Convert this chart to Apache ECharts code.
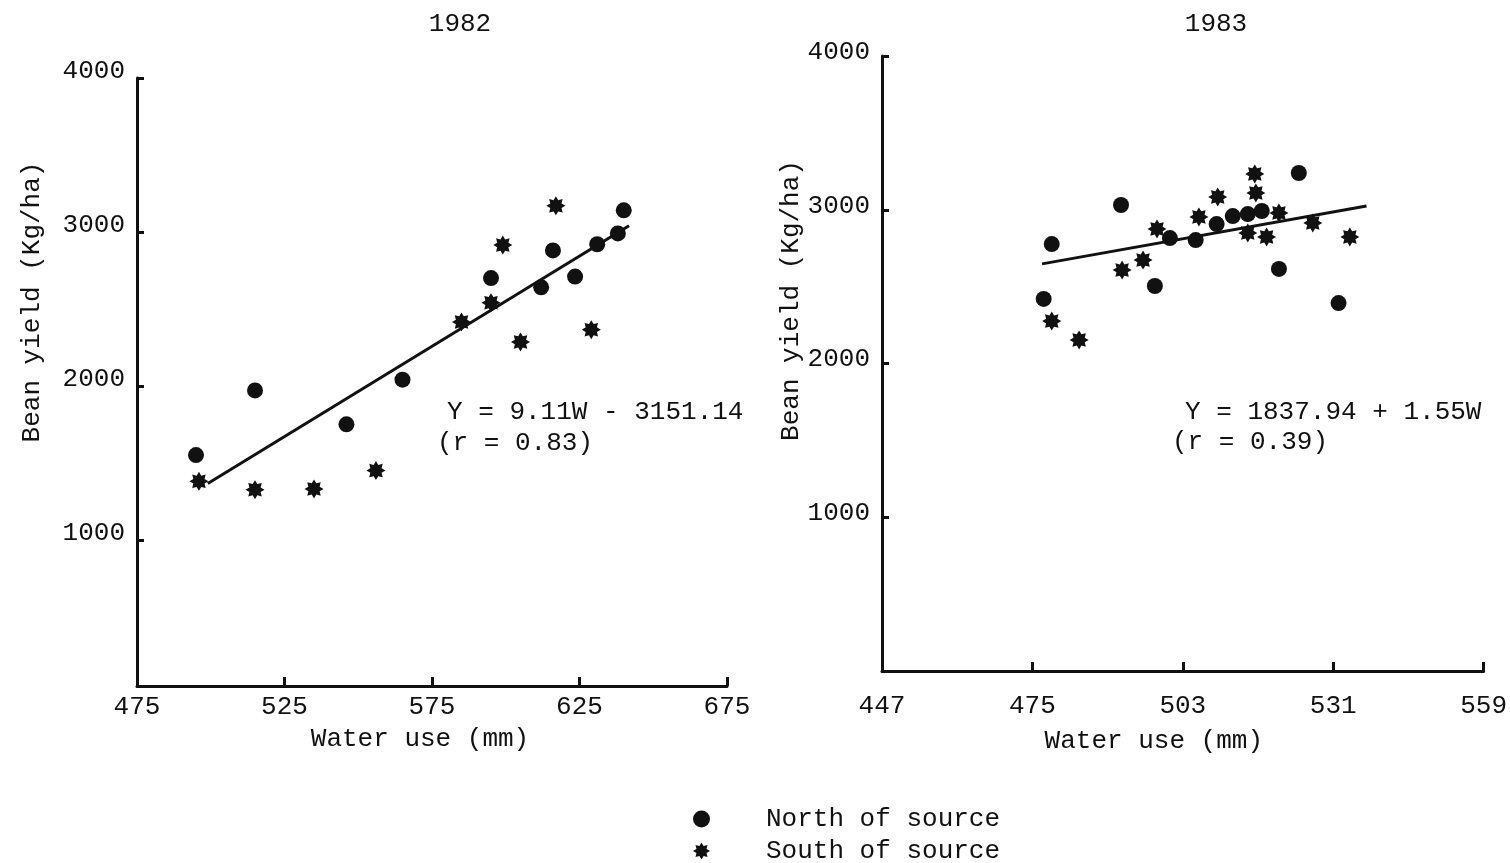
<!DOCTYPE html>
<html>
<head>
<meta charset="utf-8">
<script src="https://cdn.jsdelivr.net/npm/echarts@6/dist/echarts.min.js"></script>
<style>
  html, body { margin: 0; padding: 0; background: #fff; }
  #main { width: 1510px; height: 863px; }
</style>
</head>
<body>
<div id="main"></div>
<script>
// values: [water use (mm), bean yield (kg/ha)]
const north82 = [[495, 1550], [515, 1970], [546, 1750], [565, 2040], [595, 2700], [612, 2640],
  [616, 2880], [623.5, 2710], [631, 2920], [638, 2990], [640, 3140]]
const south82 = [[496, 1380], [515, 1325], [535, 1330], [556, 1450], [585, 2415], [595, 2540],
  [599, 2915], [605, 2285], [617, 3170], [629, 2365]]
const fit82 = [[499, 1365], [641.8, 3040]]

const north83 = [[478.6, 2777], [477.1, 2420], [491.5, 3031], [497.8, 2504], [500.6, 2816],
  [505.4, 2803], [509.3, 2907], [512.3, 2959], [515.1, 2972], [517.7, 2992], [520.9, 2615],
  [524.6, 3239], [532, 2393]]
const south83 = [[478.6, 2276], [483.7, 2153], [491.7, 2608], [495.6, 2673], [498.2, 2875],
  [506, 2953], [509.5, 3083], [515.1, 2849], [516.4, 3233], [516.6, 3109], [518.6, 2823],
  [520.9, 2979], [527.2, 2914], [534.1, 2823]]
const fit83 = [[476.8, 2648], [537.2, 3025]]

const years = ['1982', '1983']
const eq82 = ['Y = 9.11W - 3151.14', '(r = 0.83)']
const eq83 = ['Y = 1837.94 + 1.55W', '(r = 0.39)']
const legendNames = ['North of source', 'South of source']

const FONT = '"Liberation Mono", "DejaVu Sans Mono", monospace'
const INK = '#111'

// 8 pointed star marker
function starPath(n, inner) {
  let d = ''
  for (let i = 0; i < 2 * n; i++) {
    const r = i % 2 ? inner : 1
    const a = Math.PI * i / n - Math.PI / 2
    d += (i ? 'L' : 'M') + (50 + 50 * r * Math.cos(a)).toFixed(1) + ' ' + (50 + 50 * r * Math.sin(a)).toFixed(1)
  }
  return 'path://' + d + 'Z'
}
const STAR = starPath(8, 0.64)

const txt = {fontFamily: FONT, fontSize: 26, color: INK}

function xAxisOf(idx, min, max, step, gap, pad) {
  return {
    gridIndex: idx, type: 'value', min: min, max: max, interval: step,
    axisLine: {lineStyle: {color: INK, width: 3}},
    axisTick: {inside: true, length: 9, lineStyle: {color: INK, width: 3}},
    splitLine: {show: false},
    axisLabel: Object.assign({margin: idx ? 22 : 8}, txt),
    name: 'Water use (mm)', nameLocation: 'middle', nameGap: gap,
    nameTextStyle: Object.assign({padding: [0, pad, 0, 0]}, txt)
  }
}

function yAxisOf(idx, min, gap, pad, raise) {
  return {
    gridIndex: idx, type: 'value', min: min, max: 4000, splitNumber: 4,
    axisLine: {lineStyle: {color: INK, width: 3}},
    axisTick: {inside: true, length: 7, lineStyle: {color: INK, width: 3}},
    splitLine: {show: false},
    axisLabel: Object.assign({
      margin: 12, showMinLabel: false, verticalAlign: 'bottom', lineHeight: raise,
      formatter: v => (v % 1000 === 0 ? String(v) : '')
    }, txt),
    name: 'Bean yield (Kg/ha)', nameLocation: 'middle', nameGap: gap, nameRotate: 90,
    nameTextStyle: Object.assign({padding: [0, 0, 0, pad]}, txt)
  }
}

function seriesOf(idx, north, south, fit) {
  return [
    {name: legendNames[0], type: 'scatter', xAxisIndex: idx, yAxisIndex: idx, symbol: 'circle',
      symbolSize: 16, itemStyle: {color: INK, opacity: 1}, data: north},
    {name: legendNames[1], type: 'scatter', xAxisIndex: idx, yAxisIndex: idx, symbol: STAR,
      symbolSize: 19, itemStyle: {color: INK, opacity: 1}, data: south},
    {name: 'fit' + years[idx], type: 'line', xAxisIndex: idx, yAxisIndex: idx, symbol: 'none',
      lineStyle: {color: INK, width: 3}, data: fit, z: 1}
  ]
}

function legendOf(i, icon, top) {
  return {
    orient: 'vertical', left: 688, top: top, itemWidth: 17, itemHeight: 17,
    data: [{name: legendNames[i], icon: icon}],
    itemStyle: {color: INK},
    textStyle: Object.assign({padding: [0, 0, 0, 51]}, txt)
  }
}

const textEl = (x, y, s, align) => ({
  type: 'text', x: x, y: y,
  style: {text: s, font: '26px ' + FONT, fill: INK, align: align || 'left', verticalAlign: 'middle'}
})

const chart = echarts.init(document.getElementById('main'))
chart.setOption({
  backgroundColor: '#fff',
  animation: false,
  grid: [
    {left: 137, top: 78, width: 590, height: 608},
    {left: 882, top: 56, width: 602, height: 615}
  ],
  xAxis: [
    xAxisOf(0, 475, 675, 50, 40, 24),
    xAxisOf(1, 447, 559, 28, 57, 58)
  ],
  yAxis: [
    yAxisOf(0, 50, 92, 160, 14),
    yAxisOf(1, 0, 76, 126, 8)
  ],
  legend: [
    legendOf(0, 'circle', 801),
    legendOf(1, STAR, 833)
  ],
  graphic: [
    textEl(460, 24, years[0], 'center'),
    textEl(1216, 24, years[1], 'center'),
    textEl(447, 412, eq82[0]),
    textEl(437, 443, eq82[1]),
    textEl(1185, 412, eq83[0]),
    textEl(1172, 442, eq83[1])
  ],
  series: [].concat(seriesOf(0, north82, south82, fit82), seriesOf(1, north83, south83, fit83))
})
</script>
</body>
</html>
